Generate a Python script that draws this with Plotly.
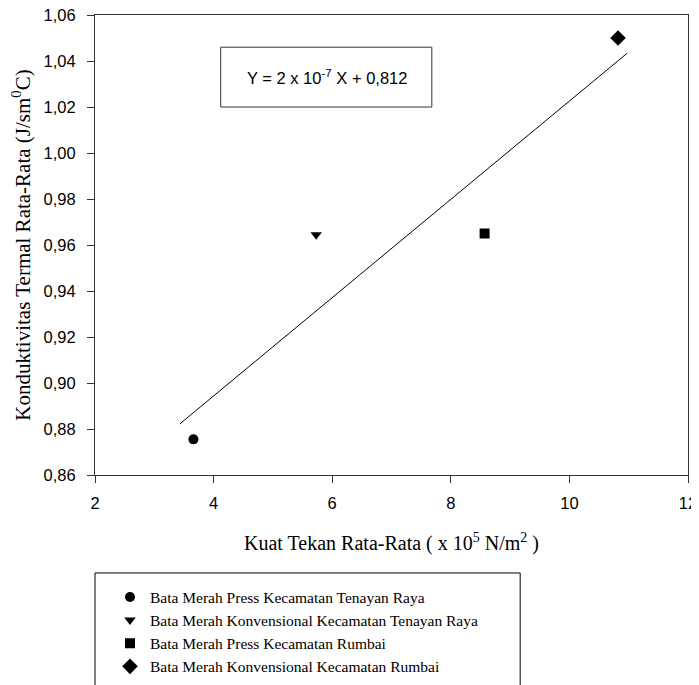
import plotly.graph_objects as go

# Data
series_names = [
    "Bata Merah Press Kecamatan Tenayan Raya",
    "Bata Merah Konvensional Kecamatan Tenayan Raya",
    "Bata Merah Press Kecamatan Rumbai",
    "Bata Merah Konvensional Kecamatan Rumbai",
]
kuat_tekan = [3.66, 5.73, 8.57, 10.82]
konduktivitas = [0.8755, 0.9645, 0.9650, 1.0500]
symbols = ["circle", "triangle-down", "square", "diamond"]
marker_sizes = [10, 10, 10, 12]

trend_x = [3.43, 10.97]
trend_y = [0.8822, 1.0433]

x_ticks = [2, 4, 6, 8, 10, 12]
y_ticks = [0.86, 0.88, 0.90, 0.92, 0.94, 0.96, 0.98, 1.00, 1.02, 1.04, 1.06]

equation_text = "Y = 2 x 10<sup>-7</sup> X + 0,812"
x_title = "Kuat Tekan Rata-Rata ( x 10<sup>5</sup> N/m<sup>2</sup> )"
y_title = "Konduktivitas Termal Rata-Rata (J/sm<sup>0</sup>C)"

fig = go.Figure()

fig.add_trace(go.Scatter(
    x=trend_x, y=trend_y, mode="lines",
    line=dict(color="black", width=1), showlegend=False, hoverinfo="skip",
))

for name, xv, yv, sym, sz in zip(series_names, kuat_tekan, konduktivitas, symbols, marker_sizes):
    fig.add_trace(go.Scatter(
        x=[xv], y=[yv], mode="markers", name=name,
        marker=dict(symbol=sym, size=sz, color="black"),
    ))

serif = "Liberation Serif, Times New Roman, serif"
sans = "Liberation Sans, Arial, sans-serif"

# the page body adds an 8px offset, so margins are shifted by -8
fig.update_layout(
    width=699, height=685,
    margin=dict(l=87, r=19, t=7, b=218, autoexpand=False),
    paper_bgcolor="white", plot_bgcolor="white",
    separators=",.",
    font=dict(family=sans, size=14, color="black"),
    xaxis=dict(
        range=[2, 12], tickvals=x_ticks, tickformat="d",
        showgrid=False, zeroline=False,
        showline=True, linecolor="#333", linewidth=1, mirror=True,
        ticks="outside", ticklen=7, tickcolor="#333",
        ticklabelstandoff=6, ticklabeloverflow="allow",
        tickfont=dict(family=sans, size=16.5),
        title=dict(text=x_title, font=dict(family=serif, size=20), standoff=25),
    ),
    yaxis=dict(
        range=[0.86, 1.06], tickvals=y_ticks, tickformat=".2f",
        showgrid=False, zeroline=False,
        showline=True, linecolor="#333", linewidth=1, mirror=True,
        ticks="outside", ticklen=7, tickcolor="#333",
        ticklabelstandoff=8, ticklabeloverflow="allow",
        tickfont=dict(family=sans, size=16.5),
        title=dict(text=y_title, font=dict(family=serif, size=21), standoff=9),
    ),
    legend=dict(
        x=0.0253, y=-0.229, xanchor="left", yanchor="top",
        bgcolor="rgba(0,0,0,0)", borderwidth=0,
        font=dict(family=serif, size=15.5, color="black"),
        itemsizing="trace",
    ),
    showlegend=True,
)

# equation box
fig.add_shape(type="rect", xref="x", yref="y",
              x0=4.12, x1=7.68, y0=1.02, y1=1.046,
              line=dict(color="#333", width=1), fillcolor="white", layer="below")
fig.add_annotation(x=5.91, y=1.033, xref="x", yref="y", text=equation_text,
                   showarrow=False, font=dict(family=sans, size=16.5, color="black"))

# legend frame
fig.add_shape(type="rect", xref="paper", yref="paper",
              x0=0.0, x1=0.717, y0=-0.213, y1=-0.49,
              line=dict(color="black", width=1), fillcolor="rgba(0,0,0,0)")

fig.write_html("out.html")
